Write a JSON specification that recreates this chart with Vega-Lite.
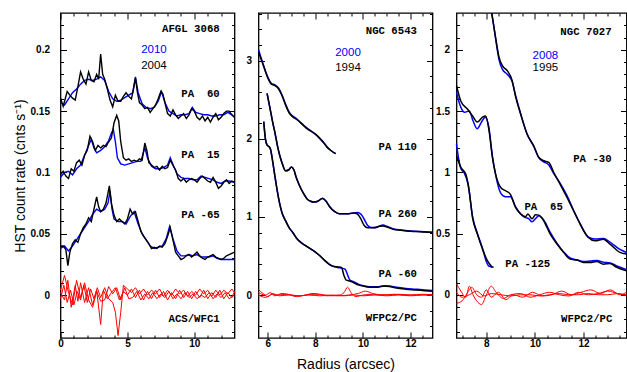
{
"$schema":"https://vega.github.io/schema/vega-lite/v6.json",
"background":"white",
"padding":{"left":11.5,"top":9,"right":0,"bottom":0},
"spacing":24,
"bounds":"flush",
"config":{"view":{"stroke":"black","strokeWidth":1.3},"axis":{"domain":false,"grid":false,"tickColor":"black","tickWidth":1,"labelFont":"Liberation Sans","labelFontWeight":"bold","labelFontSize":10,"labelColor":"black","labelOverlap":false,"labelFlush":false,"titleFont":"Liberation Sans","titleFontSize":14,"titleFontWeight":"normal","titleColor":"black"}},
"datasets":{
"p1":[
{"s":"60","c":"b","x":0,"y":0.157},{"s":"60","c":"b","x":0.3,"y":0.155},{"s":"60","c":"b","x":0.6,"y":0.16},{"s":"60","c":"b","x":0.9,"y":0.165},{"s":"60","c":"b","x":1.2,"y":0.168},{"s":"60","c":"b","x":1.5,"y":0.172},{"s":"60","c":"b","x":1.8,"y":0.175},{"s":"60","c":"b","x":2.1,"y":0.176},{"s":"60","c":"b","x":2.4,"y":0.175},{"s":"60","c":"b","x":2.7,"y":0.176},{"s":"60","c":"b","x":3.0,"y":0.178},{"s":"60","c":"b","x":3.3,"y":0.175},{"s":"60","c":"b","x":3.6,"y":0.166},{"s":"60","c":"b","x":3.9,"y":0.16},{"s":"60","c":"b","x":4.2,"y":0.158},{"s":"60","c":"b","x":4.5,"y":0.159},{"s":"60","c":"b","x":4.8,"y":0.161},{"s":"60","c":"b","x":5.1,"y":0.163},{"s":"60","c":"b","x":5.4,"y":0.165},{"s":"60","c":"b","x":5.6,"y":0.178},{"s":"60","c":"b","x":5.8,"y":0.165},{"s":"60","c":"b","x":6.1,"y":0.156},{"s":"60","c":"b","x":6.4,"y":0.153},{"s":"60","c":"b","x":6.7,"y":0.152},{"s":"60","c":"b","x":7.0,"y":0.153},{"s":"60","c":"b","x":7.3,"y":0.158},{"s":"60","c":"b","x":7.55,"y":0.166},{"s":"60","c":"b","x":7.8,"y":0.157},{"s":"60","c":"b","x":8.1,"y":0.15},{"s":"60","c":"b","x":8.4,"y":0.148},{"s":"60","c":"b","x":8.7,"y":0.146},{"s":"60","c":"b","x":9.0,"y":0.147},{"s":"60","c":"b","x":9.3,"y":0.147},{"s":"60","c":"b","x":9.6,"y":0.148},{"s":"60","c":"b","x":9.85,"y":0.153},{"s":"60","c":"b","x":10.1,"y":0.149},{"s":"60","c":"b","x":10.4,"y":0.148},{"s":"60","c":"b","x":10.7,"y":0.147},{"s":"60","c":"b","x":11.0,"y":0.147},{"s":"60","c":"b","x":11.3,"y":0.146},{"s":"60","c":"b","x":11.6,"y":0.146},{"s":"60","c":"b","x":11.9,"y":0.147},{"s":"60","c":"b","x":12.2,"y":0.147},{"s":"60","c":"b","x":12.5,"y":0.149},{"s":"60","c":"b","x":12.8,"y":0.147},{"s":"60","c":"b","x":13,"y":0.145},
{"s":"60","c":"k","x":0,"y":0.1606},{"s":"60","c":"k","x":0.2,"y":0.154},{"s":"60","c":"k","x":0.5,"y":0.166},{"s":"60","c":"k","x":0.7,"y":0.163},{"s":"60","c":"k","x":0.9,"y":0.1606},{"s":"60","c":"k","x":1.1,"y":0.159},{"s":"60","c":"k","x":1.3,"y":0.17},{"s":"60","c":"k","x":1.5,"y":0.182},{"s":"60","c":"k","x":1.7,"y":0.176},{"s":"60","c":"k","x":1.9,"y":0.172},{"s":"60","c":"k","x":2.1,"y":0.182},{"s":"60","c":"k","x":2.3,"y":0.175},{"s":"60","c":"k","x":2.5,"y":0.174},{"s":"60","c":"k","x":2.7,"y":0.18},{"s":"60","c":"k","x":2.85,"y":0.176},{"s":"60","c":"k","x":3.0,"y":0.1965},{"s":"60","c":"k","x":3.15,"y":0.18},{"s":"60","c":"k","x":3.3,"y":0.176},{"s":"60","c":"k","x":3.5,"y":0.168},{"s":"60","c":"k","x":3.7,"y":0.159},{"s":"60","c":"k","x":3.9,"y":0.1535},{"s":"60","c":"k","x":4.1,"y":0.163},{"s":"60","c":"k","x":4.3,"y":0.158},{"s":"60","c":"k","x":4.5,"y":0.158},{"s":"60","c":"k","x":4.7,"y":0.162},{"s":"60","c":"k","x":4.9,"y":0.165},{"s":"60","c":"k","x":5.1,"y":0.162},{"s":"60","c":"k","x":5.3,"y":0.16},{"s":"60","c":"k","x":5.45,"y":0.168},{"s":"60","c":"k","x":5.6,"y":0.177},{"s":"60","c":"k","x":5.75,"y":0.165},{"s":"60","c":"k","x":5.9,"y":0.157},{"s":"60","c":"k","x":6.1,"y":0.155},{"s":"60","c":"k","x":6.3,"y":0.152},{"s":"60","c":"k","x":6.5,"y":0.153},{"s":"60","c":"k","x":6.7,"y":0.149},{"s":"60","c":"k","x":6.9,"y":0.152},{"s":"60","c":"k","x":7.1,"y":0.155},{"s":"60","c":"k","x":7.3,"y":0.16},{"s":"60","c":"k","x":7.5,"y":0.166},{"s":"60","c":"k","x":7.65,"y":0.164},{"s":"60","c":"k","x":7.8,"y":0.157},{"s":"60","c":"k","x":8.0,"y":0.148},{"s":"60","c":"k","x":8.2,"y":0.146},{"s":"60","c":"k","x":8.4,"y":0.151},{"s":"60","c":"k","x":8.6,"y":0.147},{"s":"60","c":"k","x":8.8,"y":0.144},{"s":"60","c":"k","x":9.0,"y":0.146},{"s":"60","c":"k","x":9.2,"y":0.148},{"s":"60","c":"k","x":9.4,"y":0.144},{"s":"60","c":"k","x":9.6,"y":0.147},{"s":"60","c":"k","x":9.8,"y":0.152},{"s":"60","c":"k","x":10.0,"y":0.15},{"s":"60","c":"k","x":10.2,"y":0.145},{"s":"60","c":"k","x":10.4,"y":0.143},{"s":"60","c":"k","x":10.6,"y":0.146},{"s":"60","c":"k","x":10.8,"y":0.142},{"s":"60","c":"k","x":11.0,"y":0.145},{"s":"60","c":"k","x":11.2,"y":0.141},{"s":"60","c":"k","x":11.4,"y":0.145},{"s":"60","c":"k","x":11.6,"y":0.148},{"s":"60","c":"k","x":11.8,"y":0.143},{"s":"60","c":"k","x":12.0,"y":0.145},{"s":"60","c":"k","x":12.2,"y":0.148},{"s":"60","c":"k","x":12.4,"y":0.15},{"s":"60","c":"k","x":12.6,"y":0.15},{"s":"60","c":"k","x":12.8,"y":0.147},{"s":"60","c":"k","x":13,"y":0.145},
{"s":"15","c":"b","x":0,"y":0.096},{"s":"15","c":"b","x":0.3,"y":0.1},{"s":"15","c":"b","x":0.6,"y":0.101},{"s":"15","c":"b","x":0.9,"y":0.098},{"s":"15","c":"b","x":1.2,"y":0.103},{"s":"15","c":"b","x":1.5,"y":0.106},{"s":"15","c":"b","x":1.8,"y":0.114},{"s":"15","c":"b","x":2.1,"y":0.122},{"s":"15","c":"b","x":2.3,"y":0.127},{"s":"15","c":"b","x":2.5,"y":0.12},{"s":"15","c":"b","x":2.7,"y":0.116},{"s":"15","c":"b","x":3.0,"y":0.118},{"s":"15","c":"b","x":3.3,"y":0.121},{"s":"15","c":"b","x":3.6,"y":0.126},{"s":"15","c":"b","x":3.8,"y":0.132},{"s":"15","c":"b","x":3.95,"y":0.135},{"s":"15","c":"b","x":4.1,"y":0.125},{"s":"15","c":"b","x":4.25,"y":0.112},{"s":"15","c":"b","x":4.5,"y":0.107},{"s":"15","c":"b","x":4.8,"y":0.106},{"s":"15","c":"b","x":5.1,"y":0.107},{"s":"15","c":"b","x":5.4,"y":0.108},{"s":"15","c":"b","x":5.7,"y":0.109},{"s":"15","c":"b","x":6.0,"y":0.109},{"s":"15","c":"b","x":6.3,"y":0.12},{"s":"15","c":"b","x":6.5,"y":0.112},{"s":"15","c":"b","x":6.8,"y":0.105},{"s":"15","c":"b","x":7.1,"y":0.103},{"s":"15","c":"b","x":7.4,"y":0.103},{"s":"15","c":"b","x":7.7,"y":0.104},{"s":"15","c":"b","x":8.0,"y":0.106},{"s":"15","c":"b","x":8.2,"y":0.112},{"s":"15","c":"b","x":8.45,"y":0.105},{"s":"15","c":"b","x":8.7,"y":0.099},{"s":"15","c":"b","x":9.0,"y":0.096},{"s":"15","c":"b","x":9.3,"y":0.095},{"s":"15","c":"b","x":9.6,"y":0.095},{"s":"15","c":"b","x":9.9,"y":0.094},{"s":"15","c":"b","x":10.2,"y":0.094},{"s":"15","c":"b","x":10.5,"y":0.097},{"s":"15","c":"b","x":10.8,"y":0.096},{"s":"15","c":"b","x":11.1,"y":0.095},{"s":"15","c":"b","x":11.4,"y":0.094},{"s":"15","c":"b","x":11.7,"y":0.092},{"s":"15","c":"b","x":12.0,"y":0.091},{"s":"15","c":"b","x":12.3,"y":0.093},{"s":"15","c":"b","x":12.6,"y":0.093},{"s":"15","c":"b","x":13,"y":0.092},
{"s":"15","c":"k","x":0,"y":0.098},{"s":"15","c":"k","x":0.2,"y":0.101},{"s":"15","c":"k","x":0.4,"y":0.097},{"s":"15","c":"k","x":0.6,"y":0.095},{"s":"15","c":"k","x":0.8,"y":0.103},{"s":"15","c":"k","x":1.0,"y":0.101},{"s":"15","c":"k","x":1.2,"y":0.108},{"s":"15","c":"k","x":1.4,"y":0.11},{"s":"15","c":"k","x":1.6,"y":0.106},{"s":"15","c":"k","x":1.8,"y":0.114},{"s":"15","c":"k","x":2.0,"y":0.118},{"s":"15","c":"k","x":2.2,"y":0.1295},{"s":"15","c":"k","x":2.4,"y":0.125},{"s":"15","c":"k","x":2.6,"y":0.118},{"s":"15","c":"k","x":2.8,"y":0.122},{"s":"15","c":"k","x":3.0,"y":0.12},{"s":"15","c":"k","x":3.2,"y":0.122},{"s":"15","c":"k","x":3.4,"y":0.121},{"s":"15","c":"k","x":3.6,"y":0.125},{"s":"15","c":"k","x":3.8,"y":0.128},{"s":"15","c":"k","x":4.0,"y":0.1405},{"s":"15","c":"k","x":4.2,"y":0.1465},{"s":"15","c":"k","x":4.35,"y":0.142},{"s":"15","c":"k","x":4.5,"y":0.125},{"s":"15","c":"k","x":4.7,"y":0.112},{"s":"15","c":"k","x":4.9,"y":0.11},{"s":"15","c":"k","x":5.1,"y":0.111},{"s":"15","c":"k","x":5.3,"y":0.109},{"s":"15","c":"k","x":5.5,"y":0.11},{"s":"15","c":"k","x":5.7,"y":0.109},{"s":"15","c":"k","x":5.9,"y":0.111},{"s":"15","c":"k","x":6.1,"y":0.11},{"s":"15","c":"k","x":6.3,"y":0.124},{"s":"15","c":"k","x":6.45,"y":0.118},{"s":"15","c":"k","x":6.6,"y":0.108},{"s":"15","c":"k","x":6.8,"y":0.106},{"s":"15","c":"k","x":7.0,"y":0.104},{"s":"15","c":"k","x":7.2,"y":0.105},{"s":"15","c":"k","x":7.4,"y":0.102},{"s":"15","c":"k","x":7.6,"y":0.105},{"s":"15","c":"k","x":7.8,"y":0.103},{"s":"15","c":"k","x":8.0,"y":0.104},{"s":"15","c":"k","x":8.2,"y":0.11},{"s":"15","c":"k","x":8.4,"y":0.106},{"s":"15","c":"k","x":8.6,"y":0.102},{"s":"15","c":"k","x":8.8,"y":0.095},{"s":"15","c":"k","x":9.0,"y":0.093},{"s":"15","c":"k","x":9.2,"y":0.095},{"s":"15","c":"k","x":9.4,"y":0.092},{"s":"15","c":"k","x":9.6,"y":0.094},{"s":"15","c":"k","x":9.8,"y":0.095},{"s":"15","c":"k","x":10.0,"y":0.094},{"s":"15","c":"k","x":10.2,"y":0.092},{"s":"15","c":"k","x":10.4,"y":0.095},{"s":"15","c":"k","x":10.6,"y":0.097},{"s":"15","c":"k","x":10.8,"y":0.095},{"s":"15","c":"k","x":11.0,"y":0.093},{"s":"15","c":"k","x":11.2,"y":0.092},{"s":"15","c":"k","x":11.4,"y":0.096},{"s":"15","c":"k","x":11.6,"y":0.092},{"s":"15","c":"k","x":11.8,"y":0.087},{"s":"15","c":"k","x":12.0,"y":0.089},{"s":"15","c":"k","x":12.2,"y":0.092},{"s":"15","c":"k","x":12.4,"y":0.094},{"s":"15","c":"k","x":12.6,"y":0.091},{"s":"15","c":"k","x":12.8,"y":0.093},{"s":"15","c":"k","x":13,"y":0.092},
{"s":"-65","c":"b","x":0,"y":0.038},{"s":"-65","c":"b","x":0.3,"y":0.04},{"s":"-65","c":"b","x":0.6,"y":0.036},{"s":"-65","c":"b","x":0.9,"y":0.04},{"s":"-65","c":"b","x":1.2,"y":0.045},{"s":"-65","c":"b","x":1.5,"y":0.05},{"s":"-65","c":"b","x":1.8,"y":0.055},{"s":"-65","c":"b","x":2.1,"y":0.06},{"s":"-65","c":"b","x":2.4,"y":0.066},{"s":"-65","c":"b","x":2.7,"y":0.07},{"s":"-65","c":"b","x":3.0,"y":0.068},{"s":"-65","c":"b","x":3.3,"y":0.07},{"s":"-65","c":"b","x":3.55,"y":0.075},{"s":"-65","c":"b","x":3.7,"y":0.085},{"s":"-65","c":"b","x":3.85,"y":0.07},{"s":"-65","c":"b","x":4.0,"y":0.062},{"s":"-65","c":"b","x":4.3,"y":0.06},{"s":"-65","c":"b","x":4.6,"y":0.06},{"s":"-65","c":"b","x":4.9,"y":0.058},{"s":"-65","c":"b","x":5.2,"y":0.064},{"s":"-65","c":"b","x":5.5,"y":0.068},{"s":"-65","c":"b","x":5.8,"y":0.058},{"s":"-65","c":"b","x":6.1,"y":0.05},{"s":"-65","c":"b","x":6.4,"y":0.045},{"s":"-65","c":"b","x":6.7,"y":0.04},{"s":"-65","c":"b","x":7.0,"y":0.038},{"s":"-65","c":"b","x":7.3,"y":0.039},{"s":"-65","c":"b","x":7.6,"y":0.04},{"s":"-65","c":"b","x":7.9,"y":0.046},{"s":"-65","c":"b","x":8.15,"y":0.056},{"s":"-65","c":"b","x":8.4,"y":0.046},{"s":"-65","c":"b","x":8.7,"y":0.036},{"s":"-65","c":"b","x":9.0,"y":0.032},{"s":"-65","c":"b","x":9.3,"y":0.032},{"s":"-65","c":"b","x":9.6,"y":0.033},{"s":"-65","c":"b","x":9.9,"y":0.032},{"s":"-65","c":"b","x":10.2,"y":0.033},{"s":"-65","c":"b","x":10.5,"y":0.031},{"s":"-65","c":"b","x":10.8,"y":0.031},{"s":"-65","c":"b","x":11.1,"y":0.031},{"s":"-65","c":"b","x":11.4,"y":0.032},{"s":"-65","c":"b","x":11.7,"y":0.03},{"s":"-65","c":"b","x":12.0,"y":0.029},{"s":"-65","c":"b","x":12.3,"y":0.029},{"s":"-65","c":"b","x":12.6,"y":0.029},{"s":"-65","c":"b","x":13,"y":0.029},
{"s":"-65","c":"k","x":0,"y":0.04},{"s":"-65","c":"k","x":0.2,"y":0.04},{"s":"-65","c":"k","x":0.4,"y":0.037},{"s":"-65","c":"k","x":0.55,"y":0.024},{"s":"-65","c":"k","x":0.7,"y":0.035},{"s":"-65","c":"k","x":0.9,"y":0.042},{"s":"-65","c":"k","x":1.1,"y":0.045},{"s":"-65","c":"k","x":1.3,"y":0.043},{"s":"-65","c":"k","x":1.5,"y":0.05},{"s":"-65","c":"k","x":1.7,"y":0.055},{"s":"-65","c":"k","x":1.9,"y":0.058},{"s":"-65","c":"k","x":2.1,"y":0.063},{"s":"-65","c":"k","x":2.3,"y":0.06},{"s":"-65","c":"k","x":2.5,"y":0.07},{"s":"-65","c":"k","x":2.7,"y":0.08},{"s":"-65","c":"k","x":2.85,"y":0.072},{"s":"-65","c":"k","x":3.0,"y":0.068},{"s":"-65","c":"k","x":3.2,"y":0.07},{"s":"-65","c":"k","x":3.4,"y":0.075},{"s":"-65","c":"k","x":3.65,"y":0.089},{"s":"-65","c":"k","x":3.8,"y":0.075},{"s":"-65","c":"k","x":4.0,"y":0.065},{"s":"-65","c":"k","x":4.2,"y":0.06},{"s":"-65","c":"k","x":4.4,"y":0.062},{"s":"-65","c":"k","x":4.6,"y":0.06},{"s":"-65","c":"k","x":4.8,"y":0.058},{"s":"-65","c":"k","x":5.0,"y":0.062},{"s":"-65","c":"k","x":5.2,"y":0.07},{"s":"-65","c":"k","x":5.4,"y":0.066},{"s":"-65","c":"k","x":5.6,"y":0.068},{"s":"-65","c":"k","x":5.8,"y":0.06},{"s":"-65","c":"k","x":6.0,"y":0.052},{"s":"-65","c":"k","x":6.2,"y":0.048},{"s":"-65","c":"k","x":6.4,"y":0.045},{"s":"-65","c":"k","x":6.6,"y":0.042},{"s":"-65","c":"k","x":6.8,"y":0.038},{"s":"-65","c":"k","x":7.0,"y":0.039},{"s":"-65","c":"k","x":7.2,"y":0.038},{"s":"-65","c":"k","x":7.4,"y":0.04},{"s":"-65","c":"k","x":7.6,"y":0.039},{"s":"-65","c":"k","x":7.8,"y":0.042},{"s":"-65","c":"k","x":8.0,"y":0.048},{"s":"-65","c":"k","x":8.2,"y":0.055},{"s":"-65","c":"k","x":8.4,"y":0.045},{"s":"-65","c":"k","x":8.6,"y":0.035},{"s":"-65","c":"k","x":8.8,"y":0.032},{"s":"-65","c":"k","x":9.0,"y":0.029},{"s":"-65","c":"k","x":9.2,"y":0.03},{"s":"-65","c":"k","x":9.4,"y":0.032},{"s":"-65","c":"k","x":9.6,"y":0.033},{"s":"-65","c":"k","x":9.8,"y":0.031},{"s":"-65","c":"k","x":10.0,"y":0.033},{"s":"-65","c":"k","x":10.2,"y":0.035},{"s":"-65","c":"k","x":10.4,"y":0.032},{"s":"-65","c":"k","x":10.6,"y":0.03},{"s":"-65","c":"k","x":10.8,"y":0.029},{"s":"-65","c":"k","x":11.0,"y":0.031},{"s":"-65","c":"k","x":11.2,"y":0.032},{"s":"-65","c":"k","x":11.4,"y":0.033},{"s":"-65","c":"k","x":11.6,"y":0.031},{"s":"-65","c":"k","x":11.8,"y":0.03},{"s":"-65","c":"k","x":12.0,"y":0.029},{"s":"-65","c":"k","x":12.2,"y":0.03},{"s":"-65","c":"k","x":12.4,"y":0.032},{"s":"-65","c":"k","x":12.6,"y":0.033},{"s":"-65","c":"k","x":12.8,"y":0.034},{"s":"-65","c":"k","x":13,"y":0.035},
{"s":"A","c":"r","x":0,"y":0.002},{"s":"A","c":"r","x":0.3,"y":-0.004},{"s":"A","c":"r","x":0.55,"y":0.012},{"s":"A","c":"r","x":0.8,"y":-0.01},{"s":"A","c":"r","x":1.1,"y":0.008},{"s":"A","c":"r","x":1.3,"y":-0.005},{"s":"A","c":"r","x":1.5,"y":0.01},{"s":"A","c":"r","x":1.8,"y":-0.006},{"s":"A","c":"r","x":2.1,"y":0.006},{"s":"A","c":"r","x":2.4,"y":-0.008},{"s":"A","c":"r","x":2.7,"y":0.004},{"s":"A","c":"r","x":3.0,"y":-0.024},{"s":"A","c":"r","x":3.2,"y":0.004},{"s":"A","c":"r","x":3.5,"y":-0.003},{"s":"A","c":"r","x":3.8,"y":0.002},{"s":"A","c":"r","x":4.1,"y":0.006},{"s":"A","c":"r","x":4.4,"y":-0.004},{"s":"A","c":"r","x":4.7,"y":0.003},{"s":"A","c":"r","x":5.0,"y":0.0},{"s":"A","c":"r","x":5.3,"y":0.005},{"s":"A","c":"r","x":5.6,"y":-0.002},{"s":"A","c":"r","x":5.9,"y":0.004},{"s":"A","c":"r","x":6.2,"y":-0.004},{"s":"A","c":"r","x":6.5,"y":0.003},{"s":"A","c":"r","x":6.8,"y":-0.003},{"s":"A","c":"r","x":7.1,"y":0.004},{"s":"A","c":"r","x":7.4,"y":-0.002},{"s":"A","c":"r","x":7.7,"y":0.003},{"s":"A","c":"r","x":8.0,"y":-0.004},{"s":"A","c":"r","x":8.3,"y":0.002},{"s":"A","c":"r","x":8.6,"y":-0.003},{"s":"A","c":"r","x":8.9,"y":0.004},{"s":"A","c":"r","x":9.2,"y":-0.002},{"s":"A","c":"r","x":9.5,"y":0.003},{"s":"A","c":"r","x":9.8,"y":-0.003},{"s":"A","c":"r","x":10.1,"y":0.003},{"s":"A","c":"r","x":10.4,"y":-0.002},{"s":"A","c":"r","x":10.7,"y":0.004},{"s":"A","c":"r","x":11.0,"y":-0.003},{"s":"A","c":"r","x":11.3,"y":0.002},{"s":"A","c":"r","x":11.6,"y":-0.002},{"s":"A","c":"r","x":11.9,"y":0.004},{"s":"A","c":"r","x":12.2,"y":-0.003},{"s":"A","c":"r","x":12.5,"y":0.002},{"s":"A","c":"r","x":12.8,"y":-0.002},{"s":"A","c":"r","x":13,"y":0.003},
{"s":"B","c":"r","x":0,"y":-0.003},{"s":"B","c":"r","x":0.25,"y":0.008},{"s":"B","c":"r","x":0.5,"y":-0.006},{"s":"B","c":"r","x":0.75,"y":0.004},{"s":"B","c":"r","x":1.0,"y":-0.008},{"s":"B","c":"r","x":1.25,"y":0.003},{"s":"B","c":"r","x":1.5,"y":-0.004},{"s":"B","c":"r","x":1.75,"y":0.008},{"s":"B","c":"r","x":2.0,"y":-0.006},{"s":"B","c":"r","x":2.25,"y":0.005},{"s":"B","c":"r","x":2.5,"y":-0.003},{"s":"B","c":"r","x":2.75,"y":0.006},{"s":"B","c":"r","x":3.0,"y":-0.002},{"s":"B","c":"r","x":3.3,"y":0.006},{"s":"B","c":"r","x":3.6,"y":-0.003},{"s":"B","c":"r","x":3.9,"y":-0.006},{"s":"B","c":"r","x":4.1,"y":-0.014},{"s":"B","c":"r","x":4.3,"y":-0.033},{"s":"B","c":"r","x":4.5,"y":-0.014},{"s":"B","c":"r","x":4.7,"y":0.008},{"s":"B","c":"r","x":5.0,"y":0.005},{"s":"B","c":"r","x":5.3,"y":0.002},{"s":"B","c":"r","x":5.6,"y":0.006},{"s":"B","c":"r","x":5.9,"y":0.001},{"s":"B","c":"r","x":6.2,"y":0.005},{"s":"B","c":"r","x":6.5,"y":0.0},{"s":"B","c":"r","x":6.8,"y":0.004},{"s":"B","c":"r","x":7.1,"y":0.001},{"s":"B","c":"r","x":7.4,"y":0.005},{"s":"B","c":"r","x":7.7,"y":-0.001},{"s":"B","c":"r","x":8.0,"y":0.004},{"s":"B","c":"r","x":8.3,"y":0.0},{"s":"B","c":"r","x":8.6,"y":0.005},{"s":"B","c":"r","x":8.9,"y":0.001},{"s":"B","c":"r","x":9.2,"y":0.004},{"s":"B","c":"r","x":9.5,"y":-0.001},{"s":"B","c":"r","x":9.8,"y":0.003},{"s":"B","c":"r","x":10.1,"y":0.0},{"s":"B","c":"r","x":10.4,"y":0.005},{"s":"B","c":"r","x":10.7,"y":0.001},{"s":"B","c":"r","x":11.0,"y":0.004},{"s":"B","c":"r","x":11.3,"y":-0.001},{"s":"B","c":"r","x":11.6,"y":0.004},{"s":"B","c":"r","x":11.9,"y":0.0},{"s":"B","c":"r","x":12.2,"y":0.004},{"s":"B","c":"r","x":12.5,"y":0.001},{"s":"B","c":"r","x":12.8,"y":0.005},{"s":"B","c":"r","x":13,"y":0.002},
{"s":"C","c":"r","x":0,"y":0.004},{"s":"C","c":"r","x":0.3,"y":0.016},{"s":"C","c":"r","x":0.6,"y":0.002},{"s":"C","c":"r","x":0.9,"y":-0.008},{"s":"C","c":"r","x":1.2,"y":0.012},{"s":"C","c":"r","x":1.5,"y":-0.002},{"s":"C","c":"r","x":1.8,"y":0.01},{"s":"C","c":"r","x":2.1,"y":-0.004},{"s":"C","c":"r","x":2.4,"y":-0.01},{"s":"C","c":"r","x":2.7,"y":0.003},{"s":"C","c":"r","x":3.0,"y":-0.005},{"s":"C","c":"r","x":3.3,"y":-0.004},{"s":"C","c":"r","x":3.6,"y":0.007},{"s":"C","c":"r","x":3.9,"y":0.001},{"s":"C","c":"r","x":4.2,"y":0.006},{"s":"C","c":"r","x":4.5,"y":-0.004},{"s":"C","c":"r","x":4.8,"y":0.006},{"s":"C","c":"r","x":5.1,"y":-0.003},{"s":"C","c":"r","x":5.4,"y":-0.002},{"s":"C","c":"r","x":5.7,"y":0.003},{"s":"C","c":"r","x":6.0,"y":-0.004},{"s":"C","c":"r","x":6.3,"y":0.001},{"s":"C","c":"r","x":6.6,"y":-0.003},{"s":"C","c":"r","x":6.9,"y":0.002},{"s":"C","c":"r","x":7.2,"y":-0.003},{"s":"C","c":"r","x":7.5,"y":0.001},{"s":"C","c":"r","x":7.8,"y":-0.002},{"s":"C","c":"r","x":8.1,"y":0.003},{"s":"C","c":"r","x":8.4,"y":-0.003},{"s":"C","c":"r","x":8.7,"y":0.001},{"s":"C","c":"r","x":9.0,"y":-0.003},{"s":"C","c":"r","x":9.3,"y":0.002},{"s":"C","c":"r","x":9.6,"y":-0.002},{"s":"C","c":"r","x":9.9,"y":0.001},{"s":"C","c":"r","x":10.2,"y":-0.003},{"s":"C","c":"r","x":10.5,"y":0.0},{"s":"C","c":"r","x":10.8,"y":-0.002},{"s":"C","c":"r","x":11.1,"y":0.002},{"s":"C","c":"r","x":11.4,"y":-0.003},{"s":"C","c":"r","x":11.7,"y":0.001},{"s":"C","c":"r","x":12.0,"y":-0.002},{"s":"C","c":"r","x":12.3,"y":0.002},{"s":"C","c":"r","x":12.6,"y":-0.003},{"s":"C","c":"r","x":13,"y":0.0}
],
"p2":[
{"s":"110","c":"b","x":5.61,"y":3.14},{"s":"110","c":"b","x":5.8,"y":2.96},{"s":"110","c":"b","x":6.0,"y":2.79},{"s":"110","c":"b","x":6.15,"y":2.71},{"s":"110","c":"b","x":6.3,"y":2.69},{"s":"110","c":"b","x":6.45,"y":2.65},{"s":"110","c":"b","x":6.6,"y":2.56},{"s":"110","c":"b","x":6.75,"y":2.44},{"s":"110","c":"b","x":6.9,"y":2.34},{"s":"110","c":"b","x":7.05,"y":2.29},{"s":"110","c":"b","x":7.2,"y":2.26},{"s":"110","c":"b","x":7.4,"y":2.2},{"s":"110","c":"b","x":7.6,"y":2.15},{"s":"110","c":"b","x":7.8,"y":2.1},{"s":"110","c":"b","x":8.0,"y":2.06},{"s":"110","c":"b","x":8.2,"y":2.0},{"s":"110","c":"b","x":8.35,"y":1.95},{"s":"110","c":"b","x":8.5,"y":1.89},{"s":"110","c":"b","x":8.65,"y":1.85},{"s":"110","c":"b","x":8.85,"y":1.81},
{"s":"110","c":"k","x":5.61,"y":3.11},{"s":"110","c":"k","x":5.8,"y":2.95},{"s":"110","c":"k","x":6.0,"y":2.78},{"s":"110","c":"k","x":6.15,"y":2.7},{"s":"110","c":"k","x":6.3,"y":2.68},{"s":"110","c":"k","x":6.45,"y":2.64},{"s":"110","c":"k","x":6.6,"y":2.55},{"s":"110","c":"k","x":6.75,"y":2.43},{"s":"110","c":"k","x":6.9,"y":2.33},{"s":"110","c":"k","x":7.05,"y":2.28},{"s":"110","c":"k","x":7.2,"y":2.25},{"s":"110","c":"k","x":7.4,"y":2.2},{"s":"110","c":"k","x":7.6,"y":2.14},{"s":"110","c":"k","x":7.8,"y":2.1},{"s":"110","c":"k","x":8.0,"y":2.06},{"s":"110","c":"k","x":8.2,"y":2.0},{"s":"110","c":"k","x":8.35,"y":1.95},{"s":"110","c":"k","x":8.5,"y":1.89},{"s":"110","c":"k","x":8.65,"y":1.85},{"s":"110","c":"k","x":8.85,"y":1.81},
{"s":"260","c":"b","x":5.97,"y":2.58},{"s":"260","c":"b","x":6.1,"y":2.38},{"s":"260","c":"b","x":6.2,"y":2.22},{"s":"260","c":"b","x":6.3,"y":2.08},{"s":"260","c":"b","x":6.4,"y":1.92},{"s":"260","c":"b","x":6.5,"y":1.79},{"s":"260","c":"b","x":6.6,"y":1.69},{"s":"260","c":"b","x":6.75,"y":1.59},{"s":"260","c":"b","x":6.87,"y":1.6},{"s":"260","c":"b","x":7.0,"y":1.64},{"s":"260","c":"b","x":7.1,"y":1.6},{"s":"260","c":"b","x":7.2,"y":1.5},{"s":"260","c":"b","x":7.35,"y":1.39},{"s":"260","c":"b","x":7.5,"y":1.3},{"s":"260","c":"b","x":7.65,"y":1.23},{"s":"260","c":"b","x":7.8,"y":1.2},{"s":"260","c":"b","x":7.95,"y":1.19},{"s":"260","c":"b","x":8.1,"y":1.2},{"s":"260","c":"b","x":8.3,"y":1.24},{"s":"260","c":"b","x":8.45,"y":1.2},{"s":"260","c":"b","x":8.6,"y":1.13},{"s":"260","c":"b","x":8.8,"y":1.07},{"s":"260","c":"b","x":9.0,"y":1.04},{"s":"260","c":"b","x":9.2,"y":1.04},{"s":"260","c":"b","x":9.4,"y":1.04},{"s":"260","c":"b","x":9.6,"y":1.05},{"s":"260","c":"b","x":9.75,"y":1.055},{"s":"260","c":"b","x":9.9,"y":1.04},{"s":"260","c":"b","x":10.05,"y":0.97},{"s":"260","c":"b","x":10.2,"y":0.89},{"s":"260","c":"b","x":10.35,"y":0.865},{"s":"260","c":"b","x":10.55,"y":0.865},{"s":"260","c":"b","x":10.7,"y":0.885},{"s":"260","c":"b","x":10.85,"y":0.895},{"s":"260","c":"b","x":11.0,"y":0.88},{"s":"260","c":"b","x":11.3,"y":0.845},{"s":"260","c":"b","x":11.6,"y":0.832},{"s":"260","c":"b","x":12.0,"y":0.82},{"s":"260","c":"b","x":12.4,"y":0.812},{"s":"260","c":"b","x":12.92,"y":0.805},
{"s":"260","c":"k","x":5.97,"y":2.58},{"s":"260","c":"k","x":6.1,"y":2.38},{"s":"260","c":"k","x":6.2,"y":2.22},{"s":"260","c":"k","x":6.3,"y":2.08},{"s":"260","c":"k","x":6.4,"y":1.92},{"s":"260","c":"k","x":6.5,"y":1.79},{"s":"260","c":"k","x":6.6,"y":1.69},{"s":"260","c":"k","x":6.75,"y":1.59},{"s":"260","c":"k","x":6.87,"y":1.6},{"s":"260","c":"k","x":7.0,"y":1.64},{"s":"260","c":"k","x":7.1,"y":1.6},{"s":"260","c":"k","x":7.2,"y":1.5},{"s":"260","c":"k","x":7.35,"y":1.39},{"s":"260","c":"k","x":7.5,"y":1.3},{"s":"260","c":"k","x":7.65,"y":1.23},{"s":"260","c":"k","x":7.8,"y":1.2},{"s":"260","c":"k","x":7.95,"y":1.19},{"s":"260","c":"k","x":8.1,"y":1.2},{"s":"260","c":"k","x":8.3,"y":1.235},{"s":"260","c":"k","x":8.45,"y":1.2},{"s":"260","c":"k","x":8.6,"y":1.13},{"s":"260","c":"k","x":8.8,"y":1.07},{"s":"260","c":"k","x":9.0,"y":1.04},{"s":"260","c":"k","x":9.2,"y":1.04},{"s":"260","c":"k","x":9.4,"y":1.04},{"s":"260","c":"k","x":9.6,"y":1.05},{"s":"260","c":"k","x":9.75,"y":1.04},{"s":"260","c":"k","x":9.9,"y":0.98},{"s":"260","c":"k","x":10.05,"y":0.89},{"s":"260","c":"k","x":10.2,"y":0.86},{"s":"260","c":"k","x":10.45,"y":0.86},{"s":"260","c":"k","x":10.7,"y":0.88},{"s":"260","c":"k","x":10.85,"y":0.885},{"s":"260","c":"k","x":11.0,"y":0.87},{"s":"260","c":"k","x":11.3,"y":0.84},{"s":"260","c":"k","x":11.6,"y":0.83},{"s":"260","c":"k","x":12.0,"y":0.815},{"s":"260","c":"k","x":12.4,"y":0.81},{"s":"260","c":"k","x":12.92,"y":0.8},
{"s":"-60","c":"b","x":5.83,"y":2.22},{"s":"-60","c":"b","x":5.9,"y":2.0},{"s":"-60","c":"b","x":5.97,"y":1.92},{"s":"-60","c":"b","x":6.05,"y":1.9},{"s":"-60","c":"b","x":6.12,"y":1.86},{"s":"-60","c":"b","x":6.2,"y":1.72},{"s":"-60","c":"b","x":6.3,"y":1.52},{"s":"-60","c":"b","x":6.4,"y":1.33},{"s":"-60","c":"b","x":6.5,"y":1.17},{"s":"-60","c":"b","x":6.6,"y":1.05},{"s":"-60","c":"b","x":6.75,"y":0.95},{"s":"-60","c":"b","x":6.9,"y":0.86},{"s":"-60","c":"b","x":7.05,"y":0.8},{"s":"-60","c":"b","x":7.2,"y":0.73},{"s":"-60","c":"b","x":7.4,"y":0.67},{"s":"-60","c":"b","x":7.6,"y":0.63},{"s":"-60","c":"b","x":7.8,"y":0.59},{"s":"-60","c":"b","x":8.0,"y":0.55},{"s":"-60","c":"b","x":8.2,"y":0.5},{"s":"-60","c":"b","x":8.4,"y":0.44},{"s":"-60","c":"b","x":8.6,"y":0.39},{"s":"-60","c":"b","x":8.8,"y":0.36},{"s":"-60","c":"b","x":9.0,"y":0.35},{"s":"-60","c":"b","x":9.15,"y":0.34},{"s":"-60","c":"b","x":9.25,"y":0.33},{"s":"-60","c":"b","x":9.35,"y":0.26},{"s":"-60","c":"b","x":9.45,"y":0.19},{"s":"-60","c":"b","x":9.6,"y":0.17},{"s":"-60","c":"b","x":9.8,"y":0.14},{"s":"-60","c":"b","x":10.0,"y":0.12},{"s":"-60","c":"b","x":10.3,"y":0.105},{"s":"-60","c":"b","x":10.6,"y":0.105},{"s":"-60","c":"b","x":10.9,"y":0.12},{"s":"-60","c":"b","x":11.1,"y":0.115},{"s":"-60","c":"b","x":11.4,"y":0.1},{"s":"-60","c":"b","x":11.8,"y":0.085},{"s":"-60","c":"b","x":12.2,"y":0.075},{"s":"-60","c":"b","x":12.6,"y":0.065},{"s":"-60","c":"b","x":12.92,"y":0.058},
{"s":"-60","c":"k","x":5.83,"y":2.22},{"s":"-60","c":"k","x":5.9,"y":2.0},{"s":"-60","c":"k","x":5.97,"y":1.92},{"s":"-60","c":"k","x":6.05,"y":1.9},{"s":"-60","c":"k","x":6.12,"y":1.86},{"s":"-60","c":"k","x":6.2,"y":1.72},{"s":"-60","c":"k","x":6.3,"y":1.52},{"s":"-60","c":"k","x":6.4,"y":1.33},{"s":"-60","c":"k","x":6.5,"y":1.17},{"s":"-60","c":"k","x":6.6,"y":1.05},{"s":"-60","c":"k","x":6.75,"y":0.95},{"s":"-60","c":"k","x":6.9,"y":0.86},{"s":"-60","c":"k","x":7.05,"y":0.8},{"s":"-60","c":"k","x":7.2,"y":0.73},{"s":"-60","c":"k","x":7.4,"y":0.67},{"s":"-60","c":"k","x":7.6,"y":0.63},{"s":"-60","c":"k","x":7.8,"y":0.59},{"s":"-60","c":"k","x":8.0,"y":0.55},{"s":"-60","c":"k","x":8.2,"y":0.5},{"s":"-60","c":"k","x":8.4,"y":0.44},{"s":"-60","c":"k","x":8.6,"y":0.39},{"s":"-60","c":"k","x":8.8,"y":0.365},{"s":"-60","c":"k","x":9.0,"y":0.36},{"s":"-60","c":"k","x":9.1,"y":0.35},{"s":"-60","c":"k","x":9.2,"y":0.25},{"s":"-60","c":"k","x":9.3,"y":0.19},{"s":"-60","c":"k","x":9.45,"y":0.18},{"s":"-60","c":"k","x":9.6,"y":0.16},{"s":"-60","c":"k","x":9.8,"y":0.13},{"s":"-60","c":"k","x":10.0,"y":0.115},{"s":"-60","c":"k","x":10.3,"y":0.1},{"s":"-60","c":"k","x":10.6,"y":0.1},{"s":"-60","c":"k","x":10.9,"y":0.115},{"s":"-60","c":"k","x":11.1,"y":0.11},{"s":"-60","c":"k","x":11.4,"y":0.09},{"s":"-60","c":"k","x":11.8,"y":0.075},{"s":"-60","c":"k","x":12.2,"y":0.065},{"s":"-60","c":"k","x":12.6,"y":0.055},{"s":"-60","c":"k","x":12.92,"y":0.047},
{"s":"A","c":"r","x":5.61,"y":0.07},{"s":"A","c":"r","x":5.8,"y":0.02},{"s":"A","c":"r","x":6.0,"y":-0.02},{"s":"A","c":"r","x":6.2,"y":0.02},{"s":"A","c":"r","x":6.4,"y":0.0},{"s":"A","c":"r","x":6.8,"y":0.01},{"s":"A","c":"r","x":7.2,"y":-0.02},{"s":"A","c":"r","x":7.6,"y":0.0},{"s":"A","c":"r","x":8.0,"y":0.01},{"s":"A","c":"r","x":8.5,"y":-0.01},{"s":"A","c":"r","x":9.0,"y":0.0},{"s":"A","c":"r","x":9.2,"y":0.03},{"s":"A","c":"r","x":9.35,"y":0.1},{"s":"A","c":"r","x":9.5,"y":0.03},{"s":"A","c":"r","x":9.7,"y":-0.02},{"s":"A","c":"r","x":10.0,"y":0.0},{"s":"A","c":"r","x":10.5,"y":0.01},{"s":"A","c":"r","x":11.0,"y":0.0},{"s":"A","c":"r","x":11.5,"y":0.01},{"s":"A","c":"r","x":12.0,"y":0.0},{"s":"A","c":"r","x":12.5,"y":0.01},{"s":"A","c":"r","x":12.92,"y":0.0},
{"s":"B","c":"r","x":5.61,"y":0.03},{"s":"B","c":"r","x":5.9,"y":0.0},{"s":"B","c":"r","x":6.1,"y":0.03},{"s":"B","c":"r","x":6.3,"y":-0.01},{"s":"B","c":"r","x":6.6,"y":0.02},{"s":"B","c":"r","x":7.0,"y":0.0},{"s":"B","c":"r","x":7.4,"y":-0.01},{"s":"B","c":"r","x":7.9,"y":0.02},{"s":"B","c":"r","x":8.4,"y":0.0},{"s":"B","c":"r","x":8.9,"y":-0.01},{"s":"B","c":"r","x":9.4,"y":0.0},{"s":"B","c":"r","x":9.8,"y":0.02},{"s":"B","c":"r","x":10.1,"y":0.05},{"s":"B","c":"r","x":10.4,"y":0.02},{"s":"B","c":"r","x":10.8,"y":0.0},{"s":"B","c":"r","x":11.3,"y":0.01},{"s":"B","c":"r","x":11.8,"y":0.0},{"s":"B","c":"r","x":12.3,"y":0.0},{"s":"B","c":"r","x":12.92,"y":0.01},
{"s":"C","c":"r","x":5.61,"y":0.0},{"s":"C","c":"r","x":5.9,"y":-0.03},{"s":"C","c":"r","x":6.2,"y":0.01},{"s":"C","c":"r","x":6.5,"y":-0.01},{"s":"C","c":"r","x":6.9,"y":0.0},{"s":"C","c":"r","x":7.3,"y":-0.01},{"s":"C","c":"r","x":7.7,"y":0.0},{"s":"C","c":"r","x":8.2,"y":-0.01},{"s":"C","c":"r","x":8.7,"y":0.0},{"s":"C","c":"r","x":9.2,"y":-0.01},{"s":"C","c":"r","x":9.6,"y":0.0},{"s":"C","c":"r","x":10.0,"y":-0.01},{"s":"C","c":"r","x":10.5,"y":0.0},{"s":"C","c":"r","x":11.0,"y":-0.01},{"s":"C","c":"r","x":11.5,"y":0.0},{"s":"C","c":"r","x":12.0,"y":-0.01},{"s":"C","c":"r","x":12.5,"y":0.0},{"s":"C","c":"r","x":12.92,"y":-0.005}
],
"p3":[
{"s":"-30","c":"b","x":8.22,"y":2.3},{"s":"-30","c":"b","x":8.3,"y":2.2},{"s":"-30","c":"b","x":8.38,"y":2.09},{"s":"-30","c":"b","x":8.52,"y":1.92},{"s":"-30","c":"b","x":8.66,"y":1.84},{"s":"-30","c":"b","x":8.86,"y":1.8},{"s":"-30","c":"b","x":9.06,"y":1.74},{"s":"-30","c":"b","x":9.2,"y":1.63},{"s":"-30","c":"b","x":9.41,"y":1.48},{"s":"-30","c":"b","x":9.68,"y":1.31},{"s":"-30","c":"b","x":9.95,"y":1.21},{"s":"-30","c":"b","x":10.16,"y":1.12},{"s":"-30","c":"b","x":10.36,"y":1.085},{"s":"-30","c":"b","x":10.57,"y":1.06},{"s":"-30","c":"b","x":10.77,"y":0.99},{"s":"-30","c":"b","x":11.04,"y":0.91},{"s":"-30","c":"b","x":11.32,"y":0.81},{"s":"-30","c":"b","x":11.59,"y":0.69},{"s":"-30","c":"b","x":11.86,"y":0.58},{"s":"-30","c":"b","x":12.2,"y":0.47},{"s":"-30","c":"b","x":12.48,"y":0.455},{"s":"-30","c":"b","x":12.82,"y":0.46},{"s":"-30","c":"b","x":13.09,"y":0.43},{"s":"-30","c":"b","x":13.5,"y":0.37},{"s":"-30","c":"b","x":13.77,"y":0.345},
{"s":"-30","c":"k","x":8.22,"y":2.3},{"s":"-30","c":"k","x":8.3,"y":2.2},{"s":"-30","c":"k","x":8.38,"y":2.1},{"s":"-30","c":"k","x":8.52,"y":1.94},{"s":"-30","c":"k","x":8.66,"y":1.87},{"s":"-30","c":"k","x":8.86,"y":1.83},{"s":"-30","c":"k","x":9.06,"y":1.75},{"s":"-30","c":"k","x":9.2,"y":1.62},{"s":"-30","c":"k","x":9.41,"y":1.475},{"s":"-30","c":"k","x":9.68,"y":1.31},{"s":"-30","c":"k","x":9.95,"y":1.216},{"s":"-30","c":"k","x":10.16,"y":1.12},{"s":"-30","c":"k","x":10.36,"y":1.094},{"s":"-30","c":"k","x":10.57,"y":1.08},{"s":"-30","c":"k","x":10.77,"y":1.0},{"s":"-30","c":"k","x":11.04,"y":0.9},{"s":"-30","c":"k","x":11.32,"y":0.795},{"s":"-30","c":"k","x":11.59,"y":0.686},{"s":"-30","c":"k","x":11.86,"y":0.577},{"s":"-30","c":"k","x":12.2,"y":0.468},{"s":"-30","c":"k","x":12.48,"y":0.44},{"s":"-30","c":"k","x":12.82,"y":0.454},{"s":"-30","c":"k","x":13.09,"y":0.414},{"s":"-30","c":"k","x":13.5,"y":0.346},{"s":"-30","c":"k","x":13.77,"y":0.332},
{"s":"65","c":"b","x":6.77,"y":1.65},{"s":"65","c":"b","x":6.95,"y":1.53},{"s":"65","c":"b","x":7.1,"y":1.49},{"s":"65","c":"b","x":7.3,"y":1.5},{"s":"65","c":"b","x":7.45,"y":1.42},{"s":"65","c":"b","x":7.62,"y":1.355},{"s":"65","c":"b","x":7.8,"y":1.41},{"s":"65","c":"b","x":7.95,"y":1.45},{"s":"65","c":"b","x":8.1,"y":1.37},{"s":"65","c":"b","x":8.25,"y":1.13},{"s":"65","c":"b","x":8.38,"y":0.98},{"s":"65","c":"b","x":8.59,"y":0.83},{"s":"65","c":"b","x":8.79,"y":0.8},{"s":"65","c":"b","x":8.99,"y":0.8},{"s":"65","c":"b","x":9.2,"y":0.72},{"s":"65","c":"b","x":9.41,"y":0.66},{"s":"65","c":"b","x":9.61,"y":0.63},{"s":"65","c":"b","x":9.75,"y":0.62},{"s":"65","c":"b","x":9.88,"y":0.595},{"s":"65","c":"b","x":10.02,"y":0.62},{"s":"65","c":"b","x":10.16,"y":0.645},{"s":"65","c":"b","x":10.36,"y":0.61},{"s":"65","c":"b","x":10.63,"y":0.51},{"s":"65","c":"b","x":10.91,"y":0.42},{"s":"65","c":"b","x":11.18,"y":0.35},{"s":"65","c":"b","x":11.45,"y":0.3},{"s":"65","c":"b","x":11.73,"y":0.285},{"s":"65","c":"b","x":12.0,"y":0.272},{"s":"65","c":"b","x":12.27,"y":0.275},{"s":"65","c":"b","x":12.55,"y":0.28},{"s":"65","c":"b","x":12.82,"y":0.265},{"s":"65","c":"b","x":13.09,"y":0.26},{"s":"65","c":"b","x":13.37,"y":0.235},{"s":"65","c":"b","x":13.77,"y":0.205},
{"s":"65","c":"k","x":6.77,"y":1.706},{"s":"65","c":"k","x":6.95,"y":1.58},{"s":"65","c":"k","x":7.22,"y":1.516},{"s":"65","c":"k","x":7.43,"y":1.46},{"s":"65","c":"k","x":7.63,"y":1.41},{"s":"65","c":"k","x":7.84,"y":1.45},{"s":"65","c":"k","x":7.97,"y":1.46},{"s":"65","c":"k","x":8.11,"y":1.34},{"s":"65","c":"k","x":8.25,"y":1.12},{"s":"65","c":"k","x":8.38,"y":0.985},{"s":"65","c":"k","x":8.59,"y":0.876},{"s":"65","c":"k","x":8.79,"y":0.849},{"s":"65","c":"k","x":8.99,"y":0.82},{"s":"65","c":"k","x":9.2,"y":0.713},{"s":"65","c":"k","x":9.41,"y":0.66},{"s":"65","c":"k","x":9.61,"y":0.637},{"s":"65","c":"k","x":9.71,"y":0.66},{"s":"65","c":"k","x":9.88,"y":0.62},{"s":"65","c":"k","x":10.02,"y":0.653},{"s":"65","c":"k","x":10.16,"y":0.65},{"s":"65","c":"k","x":10.36,"y":0.604},{"s":"65","c":"k","x":10.63,"y":0.495},{"s":"65","c":"k","x":10.91,"y":0.414},{"s":"65","c":"k","x":11.18,"y":0.346},{"s":"65","c":"k","x":11.45,"y":0.291},{"s":"65","c":"k","x":11.73,"y":0.283},{"s":"65","c":"k","x":12.0,"y":0.264},{"s":"65","c":"k","x":12.27,"y":0.264},{"s":"65","c":"k","x":12.55,"y":0.272},{"s":"65","c":"k","x":12.82,"y":0.25},{"s":"65","c":"k","x":13.09,"y":0.256},{"s":"65","c":"k","x":13.37,"y":0.223},{"s":"65","c":"k","x":13.77,"y":0.196},
{"s":"-125","c":"b","x":6.77,"y":1.23},{"s":"-125","c":"b","x":6.85,"y":1.12},{"s":"-125","c":"b","x":6.95,"y":1.03},{"s":"-125","c":"b","x":7.1,"y":0.99},{"s":"-125","c":"b","x":7.25,"y":0.9},{"s":"-125","c":"b","x":7.43,"y":0.64},{"s":"-125","c":"b","x":7.63,"y":0.5},{"s":"-125","c":"b","x":7.84,"y":0.38},{"s":"-125","c":"b","x":8.0,"y":0.27},{"s":"-125","c":"b","x":8.1,"y":0.235},{"s":"-125","c":"b","x":8.3,"y":0.225},
{"s":"-125","c":"k","x":6.77,"y":1.135},{"s":"-125","c":"k","x":6.95,"y":1.04},{"s":"-125","c":"k","x":7.15,"y":0.985},{"s":"-125","c":"k","x":7.29,"y":0.85},{"s":"-125","c":"k","x":7.43,"y":0.63},{"s":"-125","c":"k","x":7.63,"y":0.495},{"s":"-125","c":"k","x":7.84,"y":0.373},{"s":"-125","c":"k","x":8.04,"y":0.278},{"s":"-125","c":"k","x":8.25,"y":0.223},
{"s":"A","c":"r","x":6.77,"y":0.09},{"s":"A","c":"r","x":6.95,"y":0.03},{"s":"A","c":"r","x":7.15,"y":-0.02},{"s":"A","c":"r","x":7.3,"y":0.07},{"s":"A","c":"r","x":7.45,"y":0.0},{"s":"A","c":"r","x":7.6,"y":-0.05},{"s":"A","c":"r","x":7.8,"y":-0.08},{"s":"A","c":"r","x":8.0,"y":0.0},{"s":"A","c":"r","x":8.2,"y":0.07},{"s":"A","c":"r","x":8.4,"y":0.02},{"s":"A","c":"r","x":8.7,"y":-0.03},{"s":"A","c":"r","x":9.0,"y":0.0},{"s":"A","c":"r","x":9.4,"y":0.01},{"s":"A","c":"r","x":9.8,"y":-0.02},{"s":"A","c":"r","x":10.2,"y":0.0},{"s":"A","c":"r","x":10.6,"y":0.02},{"s":"A","c":"r","x":11.0,"y":0.0},{"s":"A","c":"r","x":11.4,"y":-0.01},{"s":"A","c":"r","x":11.8,"y":0.02},{"s":"A","c":"r","x":12.2,"y":0.0},{"s":"A","c":"r","x":12.6,"y":0.01},{"s":"A","c":"r","x":13.0,"y":0.03},{"s":"A","c":"r","x":13.4,"y":0.01},{"s":"A","c":"r","x":13.77,"y":0.0},
{"s":"B","c":"r","x":6.77,"y":-0.07},{"s":"B","c":"r","x":7.0,"y":-0.05},{"s":"B","c":"r","x":7.2,"y":0.01},{"s":"B","c":"r","x":7.4,"y":0.06},{"s":"B","c":"r","x":7.6,"y":0.0},{"s":"B","c":"r","x":7.8,"y":-0.02},{"s":"B","c":"r","x":8.0,"y":0.04},{"s":"B","c":"r","x":8.2,"y":-0.02},{"s":"B","c":"r","x":8.5,"y":0.02},{"s":"B","c":"r","x":8.8,"y":-0.04},{"s":"B","c":"r","x":9.1,"y":0.0},{"s":"B","c":"r","x":9.5,"y":-0.02},{"s":"B","c":"r","x":9.9,"y":0.02},{"s":"B","c":"r","x":10.3,"y":-0.01},{"s":"B","c":"r","x":10.7,"y":0.0},{"s":"B","c":"r","x":11.1,"y":0.03},{"s":"B","c":"r","x":11.5,"y":0.0},{"s":"B","c":"r","x":11.9,"y":0.02},{"s":"B","c":"r","x":12.3,"y":0.04},{"s":"B","c":"r","x":12.7,"y":0.01},{"s":"B","c":"r","x":13.1,"y":0.04},{"s":"B","c":"r","x":13.5,"y":0.0},{"s":"B","c":"r","x":13.77,"y":0.02},
{"s":"C","c":"r","x":6.77,"y":0.02},{"s":"C","c":"r","x":7.0,"y":-0.02},{"s":"C","c":"r","x":7.3,"y":0.0},{"s":"C","c":"r","x":7.6,"y":0.03},{"s":"C","c":"r","x":7.9,"y":-0.01},{"s":"C","c":"r","x":8.2,"y":0.01},{"s":"C","c":"r","x":8.6,"y":0.0},{"s":"C","c":"r","x":9.0,"y":-0.01},{"s":"C","c":"r","x":9.4,"y":0.0},{"s":"C","c":"r","x":9.8,"y":0.0},{"s":"C","c":"r","x":10.2,"y":-0.01},{"s":"C","c":"r","x":10.6,"y":0.0},{"s":"C","c":"r","x":11.0,"y":0.01},{"s":"C","c":"r","x":11.4,"y":0.0},{"s":"C","c":"r","x":11.8,"y":0.0},{"s":"C","c":"r","x":12.2,"y":0.01},{"s":"C","c":"r","x":12.6,"y":0.0},{"s":"C","c":"r","x":13.0,"y":0.0},{"s":"C","c":"r","x":13.4,"y":0.01},{"s":"C","c":"r","x":13.77,"y":-0.01}
],
"t1":[{"t":"AFGL 3068","x":11.9,"y":0.217},{"t":"PA\u00a0\u00a060","x":11.9,"y":0.164},{"t":"PA\u00a0\u00a015","x":11.9,"y":0.1145},{"t":"PA -65","x":11.9,"y":0.0653},{"t":"ACS/WFC1","x":11.9,"y":-0.0196}],
"y1":[{"t":"2010","e":"n","x":6.98,"y":0.2},{"t":"2004","e":"o","x":6.98,"y":0.187}],
"t2":[{"t":"NGC 6543","x":12.27,"y":3.384},{"t":"PA 110","x":12.27,"y":1.89},{"t":"PA 260","x":12.27,"y":1.037},{"t":"PA -60","x":12.27,"y":0.269},{"t":"WFPC2/PC","x":12.27,"y":-0.294}],
"y2":[{"t":"2000","e":"n","x":9.37,"y":3.1},{"t":"1994","e":"o","x":9.37,"y":2.91}],
"t3":[{"t":"NGC 7027","x":13.16,"y":2.147},{"t":"PA -30","x":13.16,"y":1.11},{"t":"PA\u00a0\u00a065","x":11.15,"y":0.718},{"t":"PA -125","x":10.63,"y":0.253},{"t":"WFPC2/PC","x":13.19,"y":-0.196}],
"y3":[{"t":"2008","e":"n","x":10.43,"y":1.948},{"t":"1995","e":"o","x":10.43,"y":1.85}]
},
"hconcat":[
{"width":174,"height":325,
"resolve":{"scale":{"x":"shared","y":"shared"},"axis":{"x":"independent","y":"independent"}},
"layer":[
{"data":{"name":"p1"},"transform":[{"filter":"datum.c=='b'"}],"mark":{"type":"line","color":"#0000ff","strokeWidth":1.4},
"encoding":{"x":{"field":"x","type":"quantitative","scale":{"domain":[0,13],"nice":false,"zero":false},"axis":{"orient":"bottom","values":[0,5,10],"tickSize":-6,"labelPadding":6,"format":"~r","title":null}},
"y":{"field":"y","type":"quantitative","scale":{"domain":[-0.035,0.23],"nice":false,"zero":false},"axis":{"orient":"left","values":[0,0.05,0.1,0.15,0.2],"tickSize":-6,"labelPadding":17,"format":"~r","title":"HST count rate (cnts s⁻¹)","titlePadding":3}},
"detail":{"field":"s"}}},
{"data":{"name":"p1"},"transform":[{"filter":"datum.c=='k'"}],"mark":{"type":"line","color":"#000000","strokeWidth":1.4},
"encoding":{"x":{"field":"x","type":"quantitative","scale":{"domain":[0,13],"nice":false,"zero":false},"axis":null},"y":{"field":"y","type":"quantitative","scale":{"domain":[-0.035,0.23],"nice":false,"zero":false},"axis":null},"detail":{"field":"s"}}},
{"data":{"name":"p1"},"transform":[{"filter":"datum.c=='r'"}],"mark":{"type":"line","color":"#ff0000","strokeWidth":1},
"encoding":{"x":{"field":"x","type":"quantitative","scale":{"domain":[0,13],"nice":false,"zero":false},"axis":null},"y":{"field":"y","type":"quantitative","scale":{"domain":[-0.035,0.23],"nice":false,"zero":false},"axis":null},"detail":{"field":"s"}}},
{"data":{"name":"t1"},"mark":{"type":"text","align":"right","baseline":"middle","font":"Liberation Mono","fontWeight":"bold","fontSize":10.7,"color":"black"},
"encoding":{"x":{"field":"x","type":"quantitative","scale":{"domain":[0,13],"nice":false,"zero":false},"axis":null},"y":{"field":"y","type":"quantitative","scale":{"domain":[-0.035,0.23],"nice":false,"zero":false},"axis":null},"text":{"field":"t"}}},
{"data":{"name":"y1"},"mark":{"type":"text","align":"center","baseline":"middle","font":"Liberation Sans","fontSize":11.5},
"encoding":{"x":{"field":"x","type":"quantitative","scale":{"domain":[0,13],"nice":false,"zero":false},"axis":null},"y":{"field":"y","type":"quantitative","scale":{"domain":[-0.035,0.23],"nice":false,"zero":false},"axis":null},"text":{"field":"t"},"color":{"field":"e","type":"nominal","scale":{"domain":["n","o"],"range":["#0000ff","#000000"]},"legend":null}}},
{"data":{"values":[{"x":0,"y":0}]},"mark":{"type":"point","opacity":0},
"encoding":{"x":{"field":"x","type":"quantitative","scale":{"domain":[0,13],"nice":false,"zero":false},"axis":{"orient":"bottom","values":[1,2,3,4,6,7,8,9,11,12],"tickSize":-3,"labels":false,"title":null}},
"y":{"field":"y","type":"quantitative","scale":{"domain":[-0.035,0.23],"nice":false,"zero":false},"axis":{"orient":"left","values":[-0.03,-0.02,-0.01,0.01,0.02,0.03,0.04,0.06,0.07,0.08,0.09,0.11,0.12,0.13,0.14,0.16,0.17,0.18,0.19,0.21,0.22],"tickSize":-3,"labels":false,"title":null}}}},
{"data":{"values":[{"x":0,"y":0}]},"mark":{"type":"point","opacity":0},
"encoding":{"x":{"field":"x","type":"quantitative","scale":{"domain":[0,13],"nice":false,"zero":false},"axis":{"orient":"top","values":[0,5,10],"tickSize":-6,"labels":false,"title":null}},
"y":{"field":"y","type":"quantitative","scale":{"domain":[-0.035,0.23],"nice":false,"zero":false},"axis":{"orient":"right","values":[0,0.05,0.1,0.15,0.2],"tickSize":-6,"labels":false,"title":null}}}},
{"data":{"values":[{"x":0,"y":0}]},"mark":{"type":"point","opacity":0},
"encoding":{"x":{"field":"x","type":"quantitative","scale":{"domain":[0,13],"nice":false,"zero":false},"axis":{"orient":"top","values":[1,2,3,4,6,7,8,9,11,12],"tickSize":-3,"labels":false,"title":null}},
"y":{"field":"y","type":"quantitative","scale":{"domain":[-0.035,0.23],"nice":false,"zero":false},"axis":{"orient":"right","values":[-0.03,-0.02,-0.01,0.01,0.02,0.03,0.04,0.06,0.07,0.08,0.09,0.11,0.12,0.13,0.14,0.16,0.17,0.18,0.19,0.21,0.22],"tickSize":-3,"labels":false,"title":null}}}}
]},
{"width":174,"height":325,
"resolve":{"scale":{"x":"shared","y":"shared"},"axis":{"x":"independent","y":"independent"}},
"layer":[
{"data":{"name":"p2"},"transform":[{"filter":"datum.c=='b'"}],"mark":{"type":"line","color":"#0000ff","strokeWidth":1.5,"interpolate":"monotone"},
"encoding":{"x":{"field":"x","type":"quantitative","scale":{"domain":[5.61,12.92],"nice":false,"zero":false},"axis":{"orient":"bottom","values":[6,8,10,12],"tickSize":-6,"labelPadding":6,"format":"~r","title":"Radius (arcsec)","titlePadding":9}},
"y":{"field":"y","type":"quantitative","scale":{"domain":[-0.55,3.61],"nice":false,"zero":false},"axis":{"orient":"left","values":[0,1,2,3],"tickSize":-6,"labelPadding":13,"format":"~r","title":null}},
"detail":{"field":"s"}}},
{"data":{"name":"p2"},"transform":[{"filter":"datum.c=='k'"}],"mark":{"type":"line","color":"#000000","strokeWidth":1.5,"interpolate":"monotone"},
"encoding":{"x":{"field":"x","type":"quantitative","scale":{"domain":[5.61,12.92],"nice":false,"zero":false},"axis":null},"y":{"field":"y","type":"quantitative","scale":{"domain":[-0.55,3.61],"nice":false,"zero":false},"axis":null},"detail":{"field":"s"}}},
{"data":{"name":"p2"},"transform":[{"filter":"datum.c=='r'"}],"mark":{"type":"line","color":"#ff0000","strokeWidth":1,"interpolate":"monotone"},
"encoding":{"x":{"field":"x","type":"quantitative","scale":{"domain":[5.61,12.92],"nice":false,"zero":false},"axis":null},"y":{"field":"y","type":"quantitative","scale":{"domain":[-0.55,3.61],"nice":false,"zero":false},"axis":null},"detail":{"field":"s"}}},
{"data":{"name":"t2"},"mark":{"type":"text","align":"right","baseline":"middle","font":"Liberation Mono","fontWeight":"bold","fontSize":10.7,"color":"black"},
"encoding":{"x":{"field":"x","type":"quantitative","scale":{"domain":[5.61,12.92],"nice":false,"zero":false},"axis":null},"y":{"field":"y","type":"quantitative","scale":{"domain":[-0.55,3.61],"nice":false,"zero":false},"axis":null},"text":{"field":"t"}}},
{"data":{"name":"y2"},"mark":{"type":"text","align":"center","baseline":"middle","font":"Liberation Sans","fontSize":11.5},
"encoding":{"x":{"field":"x","type":"quantitative","scale":{"domain":[5.61,12.92],"nice":false,"zero":false},"axis":null},"y":{"field":"y","type":"quantitative","scale":{"domain":[-0.55,3.61],"nice":false,"zero":false},"axis":null},"text":{"field":"t"},"color":{"field":"e","type":"nominal","scale":{"domain":["n","o"],"range":["#0000ff","#000000"]},"legend":null}}},
{"data":{"values":[{"x":6,"y":0}]},"mark":{"type":"point","opacity":0},
"encoding":{"x":{"field":"x","type":"quantitative","scale":{"domain":[5.61,12.92],"nice":false,"zero":false},"axis":{"orient":"bottom","values":[6.5,7,7.5,8.5,9,9.5,10.5,11,11.5,12.5],"tickSize":-3,"labels":false,"title":null}},
"y":{"field":"y","type":"quantitative","scale":{"domain":[-0.55,3.61],"nice":false,"zero":false},"axis":{"orient":"left","values":[-0.4,-0.2,0.2,0.4,0.6,0.8,1.2,1.4,1.6,1.8,2.2,2.4,2.6,2.8,3.2,3.4,3.6],"tickSize":-3,"labels":false,"title":null}}}},
{"data":{"values":[{"x":6,"y":0}]},"mark":{"type":"point","opacity":0},
"encoding":{"x":{"field":"x","type":"quantitative","scale":{"domain":[5.61,12.92],"nice":false,"zero":false},"axis":{"orient":"top","values":[6,8,10,12],"tickSize":-6,"labels":false,"title":null}},
"y":{"field":"y","type":"quantitative","scale":{"domain":[-0.55,3.61],"nice":false,"zero":false},"axis":{"orient":"right","values":[0,1,2,3],"tickSize":-6,"labels":false,"title":null}}}},
{"data":{"values":[{"x":6,"y":0}]},"mark":{"type":"point","opacity":0},
"encoding":{"x":{"field":"x","type":"quantitative","scale":{"domain":[5.61,12.92],"nice":false,"zero":false},"axis":{"orient":"top","values":[6.5,7,7.5,8.5,9,9.5,10.5,11,11.5,12.5],"tickSize":-3,"labels":false,"title":null}},
"y":{"field":"y","type":"quantitative","scale":{"domain":[-0.55,3.61],"nice":false,"zero":false},"axis":{"orient":"right","values":[-0.4,-0.2,0.2,0.4,0.6,0.8,1.2,1.4,1.6,1.8,2.2,2.4,2.6,2.8,3.2,3.4,3.6],"tickSize":-3,"labels":false,"title":null}}}}
]},
{"width":170,"height":325,
"resolve":{"scale":{"x":"shared","y":"shared"},"axis":{"x":"independent","y":"independent"}},
"layer":[
{"data":{"name":"p3"},"transform":[{"filter":"datum.c=='b'"}],"mark":{"type":"line","color":"#0000ff","strokeWidth":1.5,"interpolate":"monotone"},
"encoding":{"x":{"field":"x","type":"quantitative","scale":{"domain":[6.77,13.77],"nice":false,"zero":false},"axis":{"orient":"bottom","values":[8,10,12],"tickSize":-6,"labelPadding":6,"format":"~r","title":null}},
"y":{"field":"y","type":"quantitative","scale":{"domain":[-0.353,2.3],"nice":false,"zero":false},"axis":{"orient":"left","values":[0,0.5,1,1.5,2],"tickSize":-6,"labelPadding":13,"format":"~r","title":null}},
"detail":{"field":"s"}}},
{"data":{"name":"p3"},"transform":[{"filter":"datum.c=='k'"}],"mark":{"type":"line","color":"#000000","strokeWidth":1.5,"interpolate":"monotone"},
"encoding":{"x":{"field":"x","type":"quantitative","scale":{"domain":[6.77,13.77],"nice":false,"zero":false},"axis":null},"y":{"field":"y","type":"quantitative","scale":{"domain":[-0.353,2.3],"nice":false,"zero":false},"axis":null},"detail":{"field":"s"}}},
{"data":{"name":"p3"},"transform":[{"filter":"datum.c=='r'"}],"mark":{"type":"line","color":"#ff0000","strokeWidth":1,"interpolate":"monotone"},
"encoding":{"x":{"field":"x","type":"quantitative","scale":{"domain":[6.77,13.77],"nice":false,"zero":false},"axis":null},"y":{"field":"y","type":"quantitative","scale":{"domain":[-0.353,2.3],"nice":false,"zero":false},"axis":null},"detail":{"field":"s"}}},
{"data":{"name":"t3"},"mark":{"type":"text","align":"right","baseline":"middle","font":"Liberation Mono","fontWeight":"bold","fontSize":10.7,"color":"black"},
"encoding":{"x":{"field":"x","type":"quantitative","scale":{"domain":[6.77,13.77],"nice":false,"zero":false},"axis":null},"y":{"field":"y","type":"quantitative","scale":{"domain":[-0.353,2.3],"nice":false,"zero":false},"axis":null},"text":{"field":"t"}}},
{"data":{"name":"y3"},"mark":{"type":"text","align":"center","baseline":"middle","font":"Liberation Sans","fontSize":11.5},
"encoding":{"x":{"field":"x","type":"quantitative","scale":{"domain":[6.77,13.77],"nice":false,"zero":false},"axis":null},"y":{"field":"y","type":"quantitative","scale":{"domain":[-0.353,2.3],"nice":false,"zero":false},"axis":null},"text":{"field":"t"},"color":{"field":"e","type":"nominal","scale":{"domain":["n","o"],"range":["#0000ff","#000000"]},"legend":null}}},
{"data":{"values":[{"x":8,"y":0}]},"mark":{"type":"point","opacity":0},
"encoding":{"x":{"field":"x","type":"quantitative","scale":{"domain":[6.77,13.77],"nice":false,"zero":false},"axis":{"orient":"bottom","values":[7,7.5,8.5,9,9.5,10.5,11,11.5,12.5,13,13.5],"tickSize":-3,"labels":false,"title":null}},
"y":{"field":"y","type":"quantitative","scale":{"domain":[-0.353,2.3],"nice":false,"zero":false},"axis":{"orient":"left","values":[-0.3,-0.2,-0.1,0.1,0.2,0.3,0.4,0.6,0.7,0.8,0.9,1.1,1.2,1.3,1.4,1.6,1.7,1.8,1.9,2.1,2.2],"tickSize":-3,"labels":false,"title":null}}}},
{"data":{"values":[{"x":8,"y":0}]},"mark":{"type":"point","opacity":0},
"encoding":{"x":{"field":"x","type":"quantitative","scale":{"domain":[6.77,13.77],"nice":false,"zero":false},"axis":{"orient":"top","values":[8,10,12],"tickSize":-6,"labels":false,"title":null}},
"y":{"field":"y","type":"quantitative","scale":{"domain":[-0.353,2.3],"nice":false,"zero":false},"axis":{"orient":"right","values":[0,0.5,1,1.5,2],"tickSize":-6,"labels":false,"title":null}}}},
{"data":{"values":[{"x":8,"y":0}]},"mark":{"type":"point","opacity":0},
"encoding":{"x":{"field":"x","type":"quantitative","scale":{"domain":[6.77,13.77],"nice":false,"zero":false},"axis":{"orient":"top","values":[7,7.5,8.5,9,9.5,10.5,11,11.5,12.5,13,13.5],"tickSize":-3,"labels":false,"title":null}},
"y":{"field":"y","type":"quantitative","scale":{"domain":[-0.353,2.3],"nice":false,"zero":false},"axis":{"orient":"right","values":[-0.3,-0.2,-0.1,0.1,0.2,0.3,0.4,0.6,0.7,0.8,0.9,1.1,1.2,1.3,1.4,1.6,1.7,1.8,1.9,2.1,2.2],"tickSize":-3,"labels":false,"title":null}}}}
]}
]
}
